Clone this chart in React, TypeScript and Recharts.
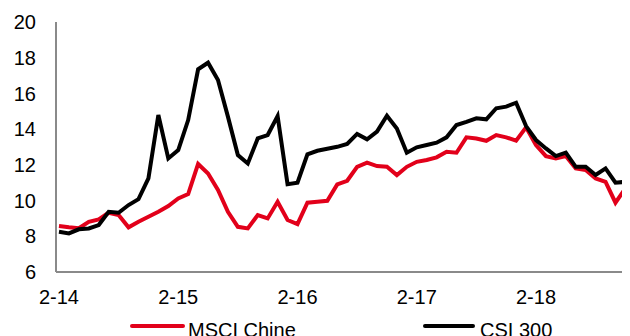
import React from 'react';
import { LineChart, Line, XAxis, YAxis, Legend } from 'recharts';

const FONT = '"Liberation Sans", Arial, sans-serif';

// Monthly observations, index 0 = Feb 2014
const msciChine = [
  8.57, 8.5, 8.45, 8.81, 8.95, 9.32, 9.19, 8.5, 8.81, 9.09,
  9.37, 9.69, 10.12, 10.36, 12.05, 11.52, 10.59, 9.37, 8.53, 8.44,
  9.19, 9.0, 9.93, 8.91, 8.68, 9.88, 9.93, 9.99, 10.9, 11.11,
  11.89, 12.12, 11.93, 11.89, 11.43, 11.89, 12.17, 12.27, 12.42, 12.73,
  12.68, 13.54, 13.48, 13.35, 13.67, 13.54, 13.35, 14.1, 13.11, 12.49,
  12.36, 12.49, 11.8, 11.71, 11.24, 11.05, 9.88, 10.68, 9.8,
];

const csi300 = [
  8.25, 8.16, 8.39, 8.44, 8.63, 9.37, 9.32, 9.75, 10.08, 11.24,
  14.79, 12.36, 12.83, 14.51, 17.35, 17.72, 16.75, 14.7, 12.55, 12.08,
  13.48, 13.67, 14.73, 10.92, 11.0, 12.59, 12.79, 12.9, 13.01, 13.17,
  13.73, 13.43, 13.86, 14.75, 14.04, 12.68, 12.98, 13.11, 13.24, 13.54,
  14.23, 14.41, 14.61, 14.55, 15.17, 15.26, 15.48, 14.17, 13.39, 12.92,
  12.49, 12.68, 11.89, 11.89, 11.43, 11.8, 11.0, 11.05, 10.69,
];

const xTickIndex = [0, 12, 24, 36, 48];
const xTickLabels = ['2-14', '2-15', '2-16', '2-17', '2-18'];
const yTicks = [6, 8, 10, 12, 14, 16, 18, 20];

const seriesNames = ['MSCI Chine', 'CSI 300'];
const seriesColors = ['#E2001A', '#000000'];

const data = msciChine.map((v, i) => ({ idx: i, msci: v, csi: csi300[i] }));

const renderLegend = () => (
  <div style={{ position: 'relative', width: 622, height: 24, fontFamily: FONT, fontSize: 20, lineHeight: '20px', color: '#000' }}>
    <div style={{ position: 'absolute', left: 122, top: 4, width: 55, height: 4, background: seriesColors[0], borderRadius: 2 }} />
    <div style={{ position: 'absolute', left: 180, top: 0, whiteSpace: 'nowrap' }}>{seriesNames[0]}</div>
    <div style={{ position: 'absolute', left: 415, top: 4, width: 52, height: 4, background: seriesColors[1], borderRadius: 2 }} />
    <div style={{ position: 'absolute', left: 472, top: 0, whiteSpace: 'nowrap' }}>{seriesNames[1]}</div>
  </div>
);

export default function App() {
  return (
    <LineChart width={622} height={328} data={data} margin={{ top: 14, right: 0, left: 0, bottom: 34 }}>
      <XAxis
        dataKey="idx"
        type="number"
        domain={[-0.3, 57.46]}
        allowDataOverflow
        ticks={xTickIndex}
        interval={0}
        tickFormatter={(v: number) => xTickLabels[xTickIndex.indexOf(v)] ?? ''}
        tickLine={false}
        tickSize={0}
        tickMargin={18}
        height={30}
        axisLine={{ stroke: '#8a8a8a', strokeWidth: 2 }}
        tick={{ fill: '#000', fontSize: 20, fontFamily: FONT }}
      />
      <YAxis
        type="number"
        domain={[6, 20]}
        ticks={yTicks}
        interval={0}
        width={48}
        tickLine={false}
        tickSize={0}
        tickMargin={20}
        axisLine={{ stroke: '#8a8a8a', strokeWidth: 2 }}
        tick={{ fill: '#000', fontSize: 20, fontFamily: FONT }}
      />
      <Legend
        layout="vertical"
        verticalAlign="middle"
        align="center"
        content={renderLegend}
        wrapperStyle={{ top: 312, left: 0, width: 622 }}
      />
      <Line
        type="linear"
        dataKey="msci"
        name={seriesNames[0]}
        stroke={seriesColors[0]}
        strokeWidth={4}
        dot={false}
        activeDot={false}
        isAnimationActive={false}
      />
      <Line
        type="linear"
        dataKey="csi"
        name={seriesNames[1]}
        stroke={seriesColors[1]}
        strokeWidth={4}
        dot={false}
        activeDot={false}
        isAnimationActive={false}
      />
    </LineChart>
  );
}
